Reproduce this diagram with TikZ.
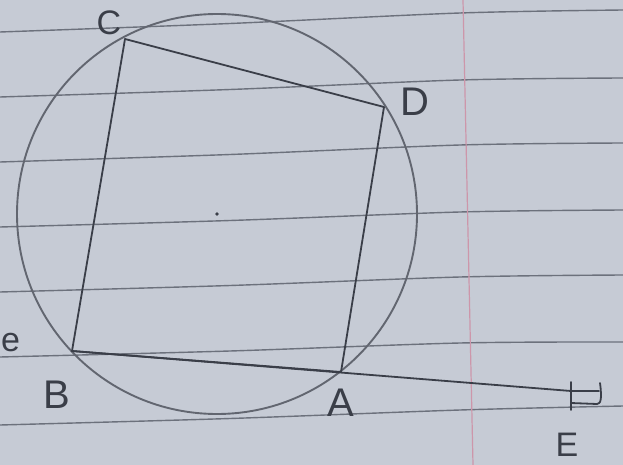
\documentclass[tikz,border=0pt]{standalone}
\usepackage{fontspec}
\setmainfont{Liberation Sans}
\definecolor{paper}{RGB}{198,203,213}
\definecolor{rule}{RGB}{108,113,124}
\definecolor{pencil}{RGB}{58,62,72}
\definecolor{circ}{RGB}{98,102,112}
\definecolor{margin}{RGB}{205,150,170}
\tikzset{
  ruled/.style={rule, line width=1.4pt},
  stroke/.style={pencil, line width=1.8pt, line cap=round, line join=round},
  circline/.style={circ, line width=1.9pt},
  lab/.style={pencil, inner sep=0pt, font=\fontsize{40}{40}\selectfont},
}
\begin{document}
\begin{tikzpicture}[x=1pt,y=-1pt]
\fill[paper] (0,0) rectangle (623,465);
\useasboundingbox (0,0) rectangle (623,465);
% ruled lines of the paper
\foreach \a/\b/\c in {32/13/10, 97/80/78, 162/145/143, 227/212/210, 292/277/275, 357/343/342, 425/410/406}
  \draw[ruled] plot[smooth] coordinates {(0,\a) (230,{(\a+\b)/2+1}) (460,\b) (623,\c)};
% margin line
\draw[margin, line width=1.2pt] (463,0) -- (473,465);
% circle and centre
\coordinate (O) at (217,214);
\draw[circline] (O) circle[radius=200];
\fill[pencil] (O) circle[radius=1.8];
% vertices
\coordinate (C) at (125,39);
\coordinate (D) at (384,107);
\coordinate (A) at (341,372);
\coordinate (B) at (72,351);
\coordinate (E) at (571,391);
\draw[stroke] (C) -- (D) -- (A);
\draw[stroke] (C) -- (B) -- (E);
\draw[stroke] (B) -- (A);
% cap at E
\draw[stroke] (571,382) -- (571,410);
\draw[stroke] (E) -- (599,391);
\draw[stroke] (571,403) -- (597,404) .. controls (601,404) and (602,398) .. (600,383);
% labels
\node[lab, font=\fontsize{34}{34}\selectfont] (labC) at (109,23) {C};
\node[lab] (labD) at (415,102) {D};
\node[lab] (labB) at (57,395) {B};
\node[lab] (labA) at (341,403) {A};
\node[lab, font=\fontsize{34}{34}\selectfont] (labE) at (567,445) {E};
\node[lab, font=\fontsize{34}{34}\selectfont, anchor=west] (labe) at (1,343) {e};
\end{tikzpicture}
\end{document}
